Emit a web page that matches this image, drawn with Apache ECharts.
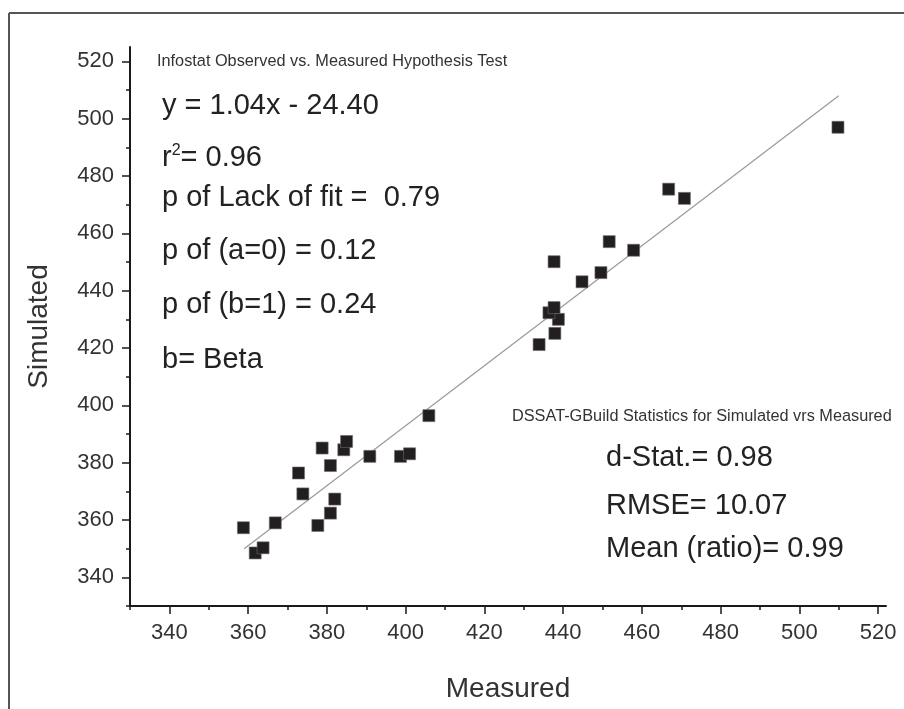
<!DOCTYPE html>
<html>
<head>
<meta charset="utf-8">
<title>Simulated vs Measured</title>
<script src="https://cdn.jsdelivr.net/npm/echarts@6/dist/echarts.min.js"></script>
<style>
  html, body { margin: 0; padding: 0; background: #fff; }
  #chart { width: 904px; height: 709px; }
</style>
</head>
<body>
<div id="chart"></div>
<script>
// observed (measured) vs simulated values
const measured = [358.8, 366.9, 361.8, 363.8, 372.8, 373.9, 378.8, 380.9, 384.3, 385.0,
  382.0, 380.9, 377.7, 390.9, 398.7, 401.0, 405.9, 433.9, 437.9, 438.8,
  436.4, 437.7, 444.8, 449.6, 437.7, 451.7, 457.9, 466.8, 470.8, 509.8]
const simulated = [357.3, 359.0, 348.5, 350.3, 376.4, 369.1, 385.1, 379.0, 384.5, 387.4,
  367.3, 362.4, 358.1, 382.2, 382.2, 383.1, 396.4, 421.2, 425.1, 430.0,
  432.3, 434.1, 443.1, 446.3, 450.1, 457.1, 454.1, 475.4, 472.2, 497.0]

// fitted line, end points
const fitX = [359, 510]
const fitY = [350, 508]

// axis ticks
const majorTicks = [340, 360, 380, 400, 420, 440, 460, 480, 500, 520]
const minorTicks = [330, 350, 370, 390, 410, 430, 450, 470, 490, 510]

// annotation text
const infostatTitle = 'Infostat Observed vs. Measured Hypothesis Test'
const infostatLines = ['y = 1.04x - 24.40', 'r{sup|2}= 0.96', 'p of Lack of fit =  0.79',
  'p of (a=0) = 0.12', 'p of (b=1) = 0.24', 'b= Beta']
const dssatTitle = 'DSSAT-GBuild Statistics for Simulated vrs Measured'
const dssatLines = ['d-Stat.= 0.98', 'RMSE= 10.07', 'Mean (ratio)= 0.99']

const FONT = '"Liberation Sans", Arial, sans-serif'
const NARROW = '"Liberation Sans Narrow", "Liberation Sans", Arial, sans-serif'
const INK = '#222'

const points = measured.map((m, i) => [m, simulated[i]])
const fitLine = fitX.map((x, i) => [x, fitY[i]])

function axisBase(min, max) {
  return {
    type: 'value',
    min: min,
    max: max,
    splitLine: { show: false },
    axisLine: { show: true, lineStyle: { color: '#1a1a1a', width: 2 } },
    axisTick: { show: true, inside: false, customValues: majorTicks, length: 8, lineStyle: { color: '#1a1a1a', width: 1.5 } },
    axisLabel: { customValues: majorTicks, fontFamily: FONT, fontSize: 22, color: '#333', margin: 16 }
  }
}

// second axis only for the short minor ticks
function minorAxis(min, max, pos) {
  return {
    type: 'value',
    min: min,
    max: max,
    position: pos,
    splitLine: { show: false },
    axisLine: { show: false },
    axisTick: { show: true, customValues: minorTicks, length: 4, lineStyle: { color: '#1a1a1a', width: 1.5 } },
    axisLabel: { show: false }
  }
}

const chart = echarts.init(document.getElementById('chart'))

const leftTexts = infostatLines.map((t, i) => ({
  type: 'text',
  left: 162,
  top: [108, 160, 200, 253, 307, 362][i] - 17,
  style: {
    text: t,
    font: '29px ' + FONT,
    fill: INK,
    rich: { sup: { fontSize: 16, fontFamily: FONT, verticalAlign: 'top', padding: [0, 0, 12, 0], fill: INK } }
  }
}))

const rightTexts = dssatLines.map((t, i) => ({
  type: 'text',
  left: 606,
  top: [460, 508, 551][i] - 17,
  style: { text: t, font: '29px ' + FONT, fill: INK }
}))

chart.setOption({
  backgroundColor: '#fff',
  animation: false,
  grid: { left: 130, right: 18, top: 47, bottom: 103, containLabel: false },
  xAxis: [
    Object.assign(axisBase(330, 522), {
      position: 'bottom',
      name: 'Measured',
      nameLocation: 'middle',
      nameGap: 69,
      nameTextStyle: { fontFamily: FONT, fontSize: 28, color: '#333' }
    }),
    minorAxis(330, 522, 'bottom')
  ],
  yAxis: [
    Object.assign(axisBase(330, 525), {
      position: 'left',
      name: 'Simulated',
      nameLocation: 'middle',
      nameGap: 77,
      nameTextStyle: { fontFamily: FONT, fontSize: 28, color: '#333' }
    }),
    minorAxis(330, 525, 'left')
  ],
  series: [
    {
      name: 'fit',
      type: 'line',
      data: fitLine,
      symbol: 'none',
      silent: true,
      lineStyle: { color: '#9a9a9a', width: 1.2 },
      z: 1
    },
    {
      name: 'points',
      type: 'scatter',
      data: points,
      symbol: 'rect',
      symbolSize: 12,
      itemStyle: { color: '#231f20', borderColor: '#6b6b6b', borderWidth: 0.6, opacity: 1 },
      z: 3
    }
  ],
  graphic: [
    // outer frame lines of the figure
    { type: 'line', shape: { x1: 9, y1: 13, x2: 904, y2: 13 }, style: { stroke: '#555', lineWidth: 2 } },
    { type: 'line', shape: { x1: 9, y1: 13, x2: 9, y2: 709 }, style: { stroke: '#555', lineWidth: 2 } },
    {
      type: 'text', left: 157, top: 54,
      style: { text: infostatTitle, font: '16.3px ' + NARROW, fill: '#333' }
    },
    {
      type: 'text', left: 512, top: 409,
      style: { text: dssatTitle, font: '16.3px ' + NARROW, fill: '#333' }
    }
  ].concat(leftTexts, rightTexts)
})
</script>
</body>
</html>
